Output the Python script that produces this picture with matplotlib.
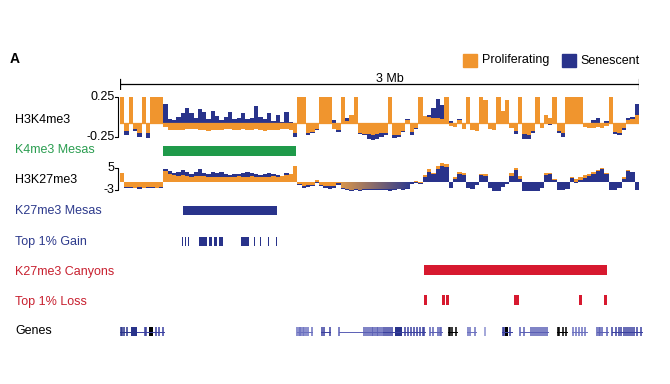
import numpy as np
import matplotlib.pyplot as plt
import matplotlib.transforms as mtransforms
from matplotlib.patches import Rectangle, Polygon
from matplotlib.colors import LinearSegmentedColormap

plt.rcParams['font.family'] = ['Liberation Sans', 'DejaVu Sans']
plt.rcParams['font.size'] = 9

ORANGE = '#f0952e'
NAVY = '#29338b'
GREEN = '#1f9a4a'
RED = '#d7192f'

# signal tracks, 25 kb bins over the 3 Mb window
BIN_MB = 0.025
k4_prolif = [
    0.25, -0.08, 0.25, -0.06, -0.10, 0.25, -0.10, 0.25, 0.25, 0.25,
    -0.04, -0.07, -0.07, -0.07, -0.07, -0.06, -0.06, -0.06, -0.065, -0.07,
    -0.08, -0.07, -0.07, -0.065, -0.06, -0.06, -0.07, -0.07, -0.06, -0.07,
    -0.065, -0.06, -0.07, -0.075, -0.07, -0.07, -0.065, -0.06, -0.06, -0.07,
    -0.10, 0.25, 0.25, -0.10, -0.09, -0.06, 0.25, 0.25, 0.25, -0.06,
    -0.07, 0.25, 0.02, 0.08, 0.25, -0.10, -0.11, -0.11, -0.12, -0.11,
    -0.10, -0.10, 0.25, -0.12, -0.12, -0.08, 0.03, -0.09, -0.05, 0.25,
    0.07, 0.06, 0.05, 0.05, 0.04, 0.25, -0.03, -0.04, 0.03, -0.06,
    0.25, -0.07, -0.08, 0.25, 0.22, -0.06, -0.07, 0.25, 0.12, 0.22,
    -0.05, -0.08, 0.25, -0.11, -0.12, -0.08, 0.25, -0.05, 0.08, 0.05,
    0.25, -0.08, -0.10, 0.25, 0.25, 0.25, 0.25, -0.04, -0.05, -0.05,
    -0.04, -0.05, -0.03, 0.25, -0.09, -0.10, -0.05, 0.03, 0.04, 0.08,
]
k4_senes = [
    0.0, -0.12, 0.0, -0.08, -0.13, 0.0, -0.14, 0.0, 0.0, 0.0,
    0.18, 0.04, 0.03, 0.06, 0.10, 0.14, 0.10, 0.05, 0.13, 0.11,
    0.04, 0.12, 0.07, 0.03, 0.06, 0.11, 0.04, 0.05, 0.10, 0.04,
    0.05, 0.16, 0.06, 0.04, 0.10, 0.02, 0.08, 0.01, 0.11, 0.01,
    -0.13, 0.0, 0.0, -0.12, -0.10, -0.07, 0.0, 0.0, 0.0, 0.03,
    -0.09, 0.0, 0.05, 0.0, 0.0, -0.11, -0.12, -0.15, -0.16, -0.15,
    -0.13, -0.12, 0.0, -0.14, -0.13, -0.09, 0.04, -0.12, -0.06, 0.0,
    0.0, 0.08, 0.14, 0.23, 0.17, 0.0, 0.02, 0.0, 0.04, 0.0,
    0.0, 0.0, 0.0, 0.0, 0.0, 0.0, 0.0, 0.0, 0.0, 0.0,
    0.0, -0.11, 0.0, -0.15, -0.15, -0.10, 0.0, 0.0, 0.0, -0.02,
    0.0, -0.10, -0.13, 0.0, 0.0, 0.0, 0.0, 0.0, 0.0, 0.03,
    0.05, 0.0, 0.02, 0.0, -0.11, -0.12, -0.07, 0.05, 0.06, 0.18,
]
k27_prolif = [
    3.0, -2.0, -2.1, -2.2, -2.1, -2.2, -2.0, -2.1, -2.2, -2.0,
    4.0, 2.6, 2.2, 2.0, 2.2, 2.0, 1.8, 2.0, 2.0, 1.9,
    1.8, 1.8, 1.7, 1.8, 1.7, 1.8, 1.8, 1.9, 1.8, 1.8,
    1.9, 1.8, 1.7, 1.8, 1.8, 1.9, 1.8, 2.0, 2.2, 2.6,
    5.8, -1.0, -1.6, -1.4, -1.2, 0.6, -1.2, -1.6, -1.8, -1.6,
    -0.6, -2.2, -2.8, -3.0, -2.9, -3.0, -2.8, -2.9, -2.8, -2.9,
    -2.7, -2.8, -2.9, -2.7, -2.6, -2.7, -2.5, -0.3, 0.3, -0.4,
    2.4, 4.5, 3.0, 5.6, 6.6, 6.2, -0.2, 1.8, 3.4, 3.0,
    -0.2, -0.2, 0.0, 2.8, 2.6, -0.2, -0.2, -0.2, -0.1, 0.0,
    3.0, 5.0, 2.0, -0.2, -0.2, -0.2, -0.2, -0.1, 3.0, 3.2,
    1.0, -0.2, -0.2, -0.2, 1.8, 0.8, 1.6, 2.2, 2.8, 3.4,
    4.2, 5.0, 3.0, -0.2, -0.2, -0.2, 1.6, 4.2, 3.6, -0.2,
]
k27_senes = [
    0.0, -2.3, -2.5, -2.4, -2.6, -2.4, -2.3, -2.5, -2.4, -2.3,
    4.6, 3.8, 3.2, 3.4, 4.2, 3.6, 2.8, 3.4, 4.4, 3.2,
    2.6, 3.4, 3.0, 3.3, 2.6, 2.2, 2.6, 2.8, 3.2, 3.6,
    3.0, 2.6, 2.4, 2.8, 3.2, 2.6, 2.4, 2.1, 3.2, 2.8,
    0.0, -1.4, -2.2, -2.0, -1.6, -0.6, -1.8, -2.4, -2.6, -2.2,
    -1.4, -2.6, -3.1, -3.3, -3.2, -3.4, -3.1, -3.2, -3.0, -3.2,
    -3.0, -3.1, -3.3, -3.0, -2.9, -3.0, -2.8, -0.8, -0.6, -1.0,
    1.6, 3.4, 2.6, 4.6, 5.6, 5.4, -2.4, 1.0, 2.8, 2.4,
    -2.4, -2.6, -1.2, 2.2, 2.0, -2.2, -3.4, -3.6, -2.0, -1.0,
    2.0, 4.2, 1.0, -3.4, -3.6, -3.5, -3.6, -2.2, 2.2, 2.6,
    0.6, -3.0, -3.2, -2.6, 1.2, -0.4, 0.6, 1.2, 2.0, 2.8,
    3.8, 4.6, 2.6, -3.0, -3.2, -2.4, 1.0, 4.0, 3.4, -3.2,
]
k27_gradient_bins = (51, 67)   # stretch rendered with an orange-to-blue fade

# interval tracks (Mb)
k4_mesas = [(0.250, 1.016)]
k27_mesas = [(0.364, 0.908)]
gain_top1 = [(0.359, 0.365), (0.374, 0.380), (0.394, 0.400), (0.455, 0.505),
             (0.516, 0.532), (0.543, 0.559), (0.574, 0.594), (0.701, 0.747),
             (0.776, 0.782), (0.810, 0.816), (0.857, 0.863), (0.899, 0.905)]
k27_canyons = [(1.757, 2.815)]
loss_top1 = [(1.757, 1.775), (1.861, 1.877), (1.884, 1.900),
             (2.277, 2.306), (2.653, 2.671), (2.798, 2.815)]

# genes: (start, end, colour, exon positions) and wide exon blocks
genes = [
    (0.000, 0.098, NAVY, [0.003, 0.012, 0.026, 0.040]),
    (0.098, 0.254, '#3a40a0', [0.145, 0.153, 0.208, 0.225, 0.251]),
    (1.023, 1.110, '#6b70c0', [1.023, 1.032, 1.040, 1.049, 1.058, 1.066, 1.075, 1.087, 1.107]),
    (1.162, 1.214, '#3a40a0', [1.168, 1.182, 1.211]),
    (1.266, 1.520, '#5a5fb5', [1.266, 1.413, 1.422, 1.433, 1.445, 1.454, 1.462, 1.474,
                               1.483, 1.491, 1.503, 1.514]),
    (1.520, 1.763, '#3a40a0', [1.526, 1.537, 1.549, 1.561, 1.572, 1.647, 1.665, 1.682,
                               1.699, 1.717, 1.734, 1.751, 1.760]),
    (1.792, 1.861, '#5a5fb5', [1.792, 1.812, 1.838, 1.850, 1.858]),
    (1.896, 1.948, 'black', [1.899, 1.907, 1.919, 1.942]),
    (2.006, 2.058, '#6b70c0', [2.009, 2.023, 2.052]),
    (2.108, 2.112, '#8a8fd0', [2.110]),
    (2.208, 2.266, '#3a40a0', [2.211, 2.220, 2.254]),
    (2.312, 2.474, '#5a5fb5', [2.315, 2.335, 2.376, 2.387, 2.399, 2.410, 2.422, 2.433,
                               2.445, 2.457, 2.468]),
    (2.526, 2.584, 'black', [2.529, 2.535, 2.561, 2.578]),
    (2.613, 2.699, '#6b70c0', [2.618, 2.636, 2.653, 2.671, 2.688]),
    (2.757, 2.821, '#5a5fb5', [2.760, 2.769, 2.777, 2.786, 2.815]),
    (2.844, 3.017, '#3a40a0', [2.844, 2.867, 2.884, 2.894, 2.913, 2.925, 2.936, 2.948,
                               2.959, 2.971, 2.988, 3.011]),
]
gene_blocks = [(0.064, 0.098, NAVY), (0.165, 0.190, 'black'),
               (1.590, 1.630, NAVY), (2.228, 2.243, 'black')]

W, H = 670, 384
X0, X1 = 120, 639
fig = plt.figure(figsize=(W / 100, H / 100), dpi=100)


def track_axes(y0, y1):
    # rectangle given in pixels from the top-left corner
    ax = fig.add_axes([X0 / W, 1 - y1 / H, (X1 - X0) / W, (y1 - y0) / H])
    ax.set_xlim(0, 3.0)
    ax.axis('off')
    return ax


def overlay(ax, prolif, senes):
    p = np.asarray(prolif)
    s = np.asarray(senes)
    edges = np.arange(len(p) + 1) * BIN_MB
    xs = np.repeat(edges, 2)[1:-1]
    p_big = np.abs(p) >= np.abs(s)
    back = np.repeat(np.where(p_big, p, s), 2)
    front = np.repeat(np.where(p_big, s, p), 2)
    m = np.repeat(p_big, 2)
    ax.fill_between(xs, back, where=m, color=ORANGE, lw=0, zorder=1)
    ax.fill_between(xs, back, where=~m, color=NAVY, lw=0, zorder=1)
    ax.fill_between(xs, front, where=m, color=NAVY, lw=0, zorder=2)
    ax.fill_between(xs, front, where=~m, color=ORANGE, lw=0, zorder=2)
    return edges


def bracket(ax, lo, hi, lo_lab, hi_lab):
    tr = mtransforms.blended_transform_factory(ax.transAxes, ax.transData)
    xv = -2.5 / (X1 - X0)
    xt = -5.0 / (X1 - X0)
    ax.plot([xt, xv, xv, xt], [hi, hi, lo, lo], color='black', lw=0.8,
            transform=tr, clip_on=False)
    ax.text(xt - 0.5 / (X1 - X0), hi, hi_lab, transform=tr, ha='right', va='center')
    ax.text(xt - 0.5 / (X1 - X0), lo, lo_lab, transform=tr, ha='right', va='center')


def intervals(ax, spans, color):
    ax.broken_barh([(a, b - a) for a, b in spans], (0, 1), color=color, lw=0)
    ax.set_ylim(0, 1)


# panel letter and legend
fig.text(10 / W, 1 - 59 / H, 'A', fontsize=10, fontweight='bold', va='center')
fig.add_artist(Rectangle((463 / W, 1 - 67 / H), 14 / W, 13 / H, color=ORANGE,
                         transform=fig.transFigure))
fig.text(482 / W, 1 - 60.5 / H, 'Proliferating', va='center')
fig.add_artist(Rectangle((562 / W, 1 - 67 / H), 14 / W, 13 / H, color=NAVY,
                         transform=fig.transFigure))
fig.text(580 / W, 1 - 60.5 / H, 'Senescent', va='center')

# ruler
ax = track_axes(78, 90)
ax.set_ylim(0, 1)
ax.plot([0, 3.0], [0.5, 0.5], color='black', lw=0.9)
ax.plot([0, 0], [0.1, 0.9], color='black', lw=0.9)
ax.plot([3.0, 3.0], [0.1, 0.9], color='black', lw=0.9)
fig.text(390 / W, 1 - 82 / H, '3 Mb', ha='center', va='baseline')

# H3K4me3
ax = track_axes(92, 142)
ax.set_ylim(-(142 - 123) * 0.25 / 26, (123 - 92) * 0.25 / 26)
overlay(ax, k4_prolif, k4_senes)
ax.axhline(0, color=ORANGE, lw=0.9, zorder=3)
bracket(ax, -14 * 0.25 / 26, 0.25, '-0.25', '0.25')

# K4me3 mesas
intervals(track_axes(146, 155.5), k4_mesas, GREEN)

# H3K27me3
ax = track_axes(160, 196)
ax.set_ylim(-14.5 / 2.75, 21.5 / 2.75)
edges = overlay(ax, k27_prolif, k27_senes)
g0, g1 = k27_gradient_bins
gx = np.repeat(edges[g0:g1 + 1], 2)[1:-1]
gy = np.repeat(np.asarray(k27_prolif[g0:g1]), 2)
poly = Polygon([(gx[0], 0)] + list(zip(gx, gy)) + [(gx[-1], 0)],
               closed=True, facecolor='none', edgecolor='none')
ax.add_patch(poly)
fade = LinearSegmentedColormap.from_list('fade', ['#d9964c', '#2d3a8f'])
im = ax.imshow(np.linspace(0, 1, 256).reshape(1, -1), cmap=fade, aspect='auto',
               extent=[gx[0], gx[-1], min(gy), 0], zorder=2.5)
im.set_clip_path(poly)
ax.set_xlim(0, 3.0)
ax.set_ylim(-14.5 / 2.75, 21.5 / 2.75)
bracket(ax, -3, 5, '-3', '5')

# interval tracks
intervals(track_axes(206, 215), k27_mesas, NAVY)
intervals(track_axes(237, 246), gain_top1, NAVY)
intervals(track_axes(265, 275), k27_canyons, RED)
intervals(track_axes(295, 305), loss_top1, RED)

# genes
ax = track_axes(326, 337)
ax.set_ylim(0, 1)
for start, end, color, exons in genes:
    ax.plot([start, end], [0.5, 0.5], color=color, lw=0.7, clip_on=False)
    ax.vlines(exons, 0.1, 0.9, color=color, lw=1.1, clip_on=False)
for start, end, color in gene_blocks:
    ax.add_patch(Rectangle((start, 0.1), end - start, 0.8, color=color, lw=0))

# track labels
labels = [
    ('H3K4me3', 120, 'black'),
    ('K4me3 Mesas', 150.5, '#2a9d50'),
    ('H3K27me3', 180.5, 'black'),
    ('K27me3 Mesas', 211.5, '#2d3a8c'),
    ('Top 1% Gain', 241.5, '#2d3a8c'),
    ('K27me3 Canyons', 272, '#c8202f'),
    ('Top 1% Loss', 301.5, '#c8202f'),
    ('Genes', 331, 'black'),
]
for text, y, color in labels:
    fig.text(15 / W, 1 - y / H, text, color=color, va='center', ha='left')

fig.savefig('out.png', dpi=100)
